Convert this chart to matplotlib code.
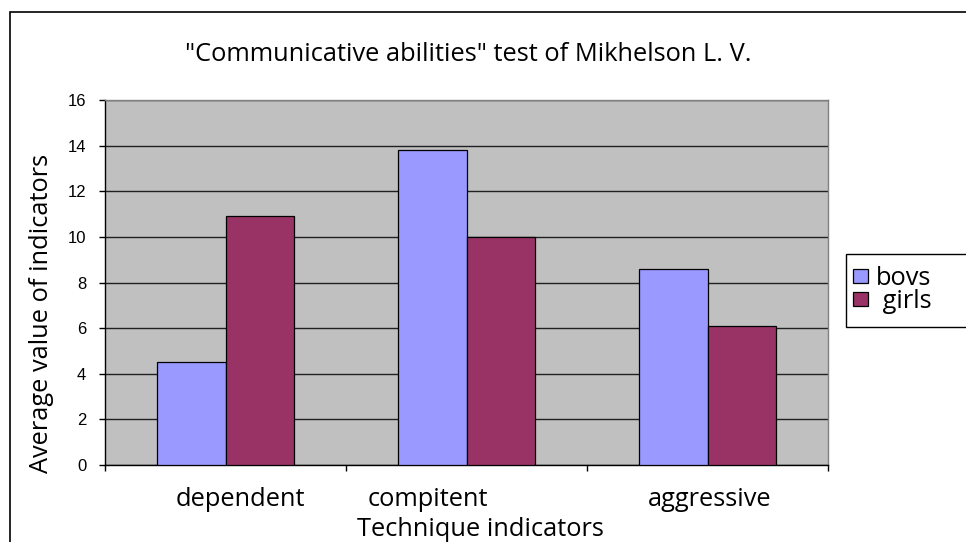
import matplotlib
matplotlib.use("Agg")
import matplotlib.pyplot as plt
import matplotlib.transforms as mtransforms
import numpy as np
from matplotlib.patches import Rectangle

categories = ["dependent", "compitent", "aggressive"]
series_names = ["bovs", " girls"]
boys = [4.5, 13.8, 8.6]
girls = [10.9, 10.0, 6.1]
yticks = [0, 2, 4, 6, 8, 10, 12, 14, 16]

W, H = 966, 542
fig = plt.figure(figsize=(W / 100, H / 100), dpi=100)
fig.patch.set_facecolor("white")

def fx(px):
    return px / W

def fy(py):
    return 1 - py / H

FONT = "Open Sans"
FS = 18.3

# plot area in pixels: x 105..828, y 100..465
ax = fig.add_axes([fx(105), fy(465), (828 - 105) / W, (465 - 100) / H])
ax.set_facecolor("#C0C0C0")

x = np.arange(len(categories))
bw = 0.283
ax.bar(x - bw / 2, boys, bw, color="#9999FF", edgecolor="black", linewidth=0.9,
       label=series_names[0], zorder=3)
ax.bar(x + bw / 2, girls, bw, color="#993366", edgecolor="black", linewidth=0.9,
       label=series_names[1], zorder=3)

ax.set_xlim(-0.5, len(categories) - 0.5)
ax.set_ylim(0, 16)
ax.set_yticks(yticks)
ax.set_yticklabels([str(v) for v in yticks], fontsize=12, family="Liberation Sans")
ax.yaxis.grid(True, color="#202020", linewidth=1.0, zorder=1)
ax.set_axisbelow(True)

ax.set_xticks(np.arange(-0.5, len(categories) + 0.5, 1.0))
ax.set_xticklabels([])
ax.tick_params(axis="x", length=4.5, width=1, direction="out", color="black")
ax.tick_params(axis="y", length=4.5, width=1, direction="out", color="black", pad=9)

for s in ["top", "right"]:
    ax.spines[s].set_color("#808080")
    ax.spines[s].set_linewidth(1)
for s in ["left", "bottom"]:
    ax.spines[s].set_color("black")
    ax.spines[s].set_linewidth(1)

# category labels (offsets as in the original layout)
label_offsets = [0.06, -0.16, 0.008]
trans = mtransforms.blended_transform_factory(ax.transData, fig.transFigure)
for i, (c, off) in enumerate(zip(categories, label_offsets)):
    ax.text(i + off, fy(506), c, transform=trans,
            ha="center", va="baseline", fontsize=FS, family=FONT)

fig.text(fx(480), fy(536), "Technique indicators", ha="center", va="baseline",
         fontsize=FS, family=FONT)
fig.text(fx(42), fy(313), "Average value of indicators", ha="center", va="center",
         rotation=90, fontsize=FS, family=FONT)
fig.text(fx(468), fy(61), "\"Communicative abilities\" test of Mikhelson L. V.",
         ha="center", va="baseline", fontsize=FS, family=FONT)

# legend box
fig.patches.append(Rectangle((fx(846), fy(327)), (975 - 846) / W, (327 - 254) / H,
                             transform=fig.transFigure, facecolor="white",
                             edgecolor="black", linewidth=1, zorder=5))
leg = fig.legend(loc="upper left", bbox_to_anchor=(fx(853), fy(266)),
                 frameon=False, prop={"family": FONT, "size": FS},
                 handlelength=0.6, handleheight=0.45, handletextpad=0.3,
                 borderpad=0.0, labelspacing=-0.08, borderaxespad=0)
leg.set_zorder(6)

# chart border
fig.patches.append(Rectangle((fx(10), fy(560)), (980 - 10) / W, (560 - 12) / H,
                             transform=fig.transFigure, fill=False,
                             edgecolor="black", linewidth=1.2))

fig.savefig("out.png", dpi=100)
